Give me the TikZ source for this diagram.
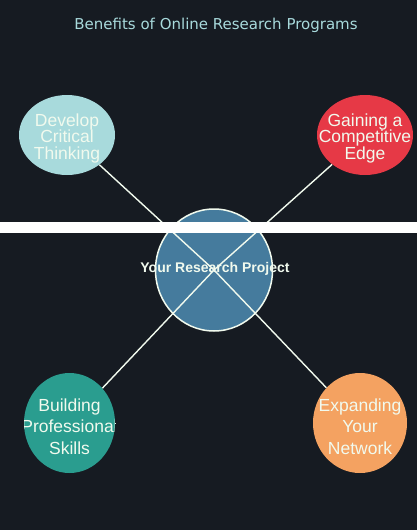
\documentclass[tikz,border=0pt]{standalone}
\usepackage{fontspec}
\setmainfont{Liberation Sans}
\newfontfamily\titlefont{DejaVu Sans}
\usepackage{tikz}
\usetikzlibrary{shapes.geometric}

\definecolor{bgdark}{HTML}{161B22}
\definecolor{honeydew}{HTML}{F1FAEE}
\definecolor{powder}{HTML}{A8DADC}
\definecolor{celadon}{HTML}{457B9D}
\definecolor{crimson}{HTML}{E63946}
\definecolor{persian}{HTML}{2A9D8F}
\definecolor{sandy}{HTML}{F4A261}

\begin{document}
\begin{tikzpicture}[
        x=1pt, y=-1pt,
        bubble/.style={ellipse, inner sep=0pt, minimum width=96pt, minimum height=80pt},
        bubbletext/.style={align=center, text=honeydew, yshift=-3pt, font=\fontsize{17.5}{16.5}\selectfont},
        lowtext/.style={bubbletext/.style={align=center, text=honeydew, yshift=-3.5pt, font=\fontsize{17.5}{21.5}\selectfont}},
        clipped/.style={path picture={\node[bubbletext] at (path picture bounding box.center) {#1};}},
        link/.style={draw=honeydew, line width=1.4pt}
    ]

    % Background
    \fill[bgdark] (0,0) rectangle (417,530);
    \useasboundingbox (0,0) rectangle (417,530);

    % Title
    \node[text=powder, font=\titlefont\fontsize{15}{18}\selectfont] (title) at (216,25) {Benefits of Online Research Programs};

    % Nodes
    \node[ellipse, inner sep=0pt, minimum width=117pt, minimum height=122pt, fill=celadon, draw=honeydew, line width=1.5pt] (hub) at (214,270) {};

    \node[bubble, fill=powder, clipped={Develop\\Critical\\Thinking}] (thinking) at (67,135) {};
    \node[bubble, fill=crimson, clipped={Gaining a\\Competitive\\Edge}] (edge) at (365,135) {};
    \node[bubble, lowtext, minimum width=91pt, minimum height=100pt, fill=persian, clipped={Building\\Professional\\Skills}] (skills) at (69.5,423) {};
    \node[bubble, lowtext, minimum width=94pt, minimum height=100pt, fill=sandy, clipped={Expanding\\Your\\Network}] (network) at (360,423) {};

    % Links
    \draw[link] (hub.center) -- (thinking);
    \draw[link] (hub.center) -- (edge);
    \draw[link] (hub.center) -- (skills);
    \draw[link] (hub.center) -- (network);

    \node[text=honeydew, font=\bfseries\fontsize{14}{16}\selectfont] (project) at (215,268.5) {Your Research Project};

    % Band
    \fill[white] (0,222) rectangle (417,233);

\end{tikzpicture}
\end{document}
